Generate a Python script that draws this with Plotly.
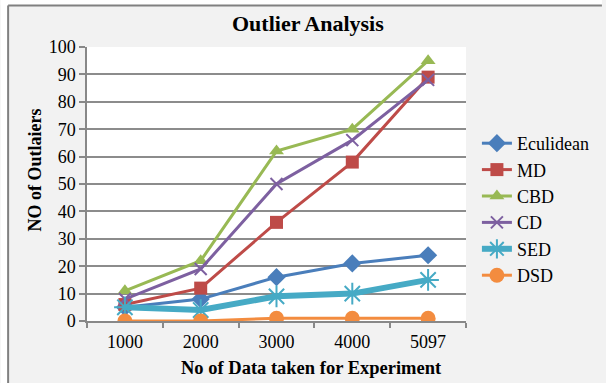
import plotly.graph_objects as go

# Data
categories = ["1000", "2000", "3000", "4000", "5097"]
euclidean = [5, 8, 16, 21, 24]
md = [6, 12, 36, 58, 89]
cbd = [11, 22, 62, 70, 95]
cd = [8, 19, 50, 66, 88]
sed = [5, 4, 9, 10, 15]
dsd = [0, 0, 1, 1, 1]

series = [
    ("Eculidean", euclidean, "#4A7EBB", "diamond", 14, 3),
    ("MD", md, "#BE4B48", "square", 13, 3),
    ("CBD", cbd, "#98B954", "triangle-up", 13, 3),
    ("CD", cd, "#7D60A0", "x-thin-open", 12, 3),
    ("SED", sed, "#46AAC5", "asterisk-open", 18, 6),
    ("DSD", dsd, "#F38C3F", "circle", 15, 3),
]

W, H = 606, 383
L, R, T, B = 87, 469, 47, 321  # plot area in pixels
PW, PH = R - L, B - T


def px(x):
    return (x - L) / PW


def py(y):
    return (B - y) / PH


fig = go.Figure()
for name, vals, color, symbol, size, lw in series:
    fig.add_trace(go.Scatter(
        x=categories, y=vals, name=name, mode="lines+markers",
        line=dict(color=color, width=lw),
        marker=dict(symbol=symbol, size=size, color=color,
                    line=dict(color=color, width=2 if "open" in symbol else 0)),
    ))

serif = "Liberation Serif, Times New Roman, serif"
fig.update_layout(
    width=W, height=H,
    margin=dict(l=L, r=W - R, t=T, b=H - B, pad=0),
    paper_bgcolor="#F2F2F2",
    plot_bgcolor="white",
    font=dict(family=serif, size=18, color="black"),
    showlegend=True,
    legend=dict(x=px(480), y=py(125), xanchor="left", yanchor="top",
                bgcolor="rgba(0,0,0,0)",
                font=dict(family=serif, size=18, color="black"),
                itemwidth=30, tracegroupgap=0),
    xaxis=dict(type="category", range=[-0.5, 4.5], tickson="boundaries",
               ticks="outside", ticklen=5, tickcolor="#888888", tickwidth=1.5,
               showline=True, linecolor="#888888", linewidth=1.5,
               showgrid=False, fixedrange=True, ticklabelstandoff=4,
               tickfont=dict(family=serif, size=18, color="black")),
    yaxis=dict(range=[0, 100], dtick=10, ticks="outside", ticklen=6,
               tickcolor="#888888", tickwidth=1.5,
               showline=True, linecolor="#888888", linewidth=1.5,
               showgrid=True, gridcolor="#8C8C8C", gridwidth=1.5,
               zeroline=False, fixedrange=True,
               tickfont=dict(family=serif, size=18, color="black")),
    shapes=[
        # white strip outside the chart frame
        dict(type="rect", xref="paper", yref="paper", x0=px(0), x1=px(W),
             y0=py(0), y1=py(5), fillcolor="white", line_width=0, layer="below"),
        dict(type="rect", xref="paper", yref="paper", x0=px(0), x1=px(7),
             y0=py(0), y1=py(H), fillcolor="white", line_width=0, layer="below"),
        # frame border (left and top)
        dict(type="line", xref="paper", yref="paper", x0=px(7.5), x1=px(W),
             y0=py(5.5), y1=py(5.5), line=dict(color="#808080", width=2)),
        dict(type="line", xref="paper", yref="paper", x0=px(7.5), x1=px(7.5),
             y0=py(5.5), y1=py(H), line=dict(color="#808080", width=2)),
    ],
    annotations=[
        dict(text="<b>Outlier Analysis</b>", xref="paper", yref="paper",
             x=px(310), y=py(23), xanchor="center", yanchor="middle",
             showarrow=False, font=dict(family=serif, size=22)),
        dict(text="<b>No of Data taken for Experiment</b>", xref="paper", yref="paper",
             x=px(313), y=py(368), xanchor="center", yanchor="middle",
             showarrow=False, font=dict(family=serif, size=18.5)),
        dict(text="<b>NO of Outlaiers</b>", xref="paper", yref="paper",
             x=px(35), y=py(170), xanchor="center", yanchor="middle",
             showarrow=False, textangle=-90,
             font=dict(family=serif, size=18)),
    ],
)

fig.write_html("out.html")
